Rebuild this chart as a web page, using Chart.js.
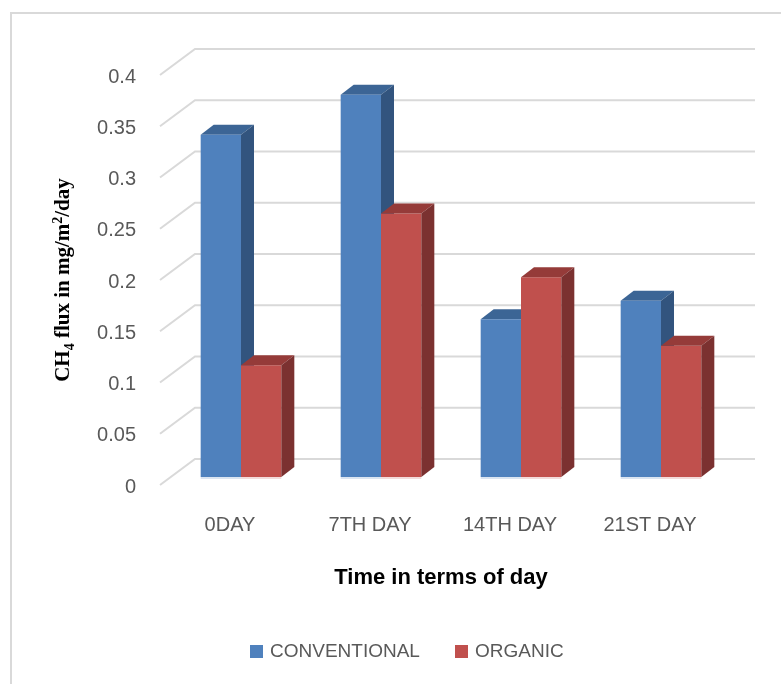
<!DOCTYPE html>
<html>
<head>
<meta charset="utf-8">
<title>CH4 flux</title>
<script src="https://cdn.jsdelivr.net/npm/chart.js@4.4.1/dist/chart.umd.min.js"></script>
<style>
  html, body { margin: 0; padding: 0; background: #ffffff; }
  canvas { display: block; }
</style>
</head>
<body>
<canvas id="chart" width="781" height="684"></canvas>
<script>
// Categories and series values (CH4 flux, mg/m2/day)
const categories = ['0DAY', '7TH DAY', '14TH DAY', '21ST DAY'];
const conventional = [0.334, 0.373, 0.154, 0.172];
const organic = [0.109, 0.257, 0.195, 0.128];
const seriesNames = ['CONVENTIONAL', 'ORGANIC'];
const yMin = 0, yMax = 0.4, yStep = 0.05;

// Colours of the front, top and side faces of each series
const faceColors = [
  { front: '#4f81bd', top: '#3c6595', side: '#32547e', base: '#dbe5f1' },
  { front: '#c0504d', top: '#953b39', side: '#7b3130', base: '#f2dcdb' }
];

// Oblique depth: offset from the bar plane to the front edge and to the back wall
const FRONT = { dx: -11, dy: 8 };
const BACK = { dx: 24, dy: -18 };
const BAR_DEPTH = { dx: 13, dy: -10 };
const GRID = '#d9d9d9';
const TEXT = '#595959';
const SANS = '"Liberation Sans", Arial, sans-serif';
const SERIF = '"Liberation Serif", "Times New Roman", serif';

function fmt(v) { return String(Number(v.toFixed(2))); }

function drawFaces(ctx, meta, colors) {
  meta.data.forEach(el => {
    const p = el.getProps(['x', 'y', 'base', 'width'], true);
    const l = p.x - p.width / 2, r = p.x + p.width / 2;
    const t = p.y, b = p.base;
    const dx = BAR_DEPTH.dx, dy = BAR_DEPTH.dy;
    // top face
    ctx.fillStyle = colors.top;
    ctx.beginPath();
    ctx.moveTo(l, t); ctx.lineTo(l + dx, t + dy); ctx.lineTo(r + dx, t + dy); ctx.lineTo(r, t);
    ctx.closePath(); ctx.fill();
    // side face
    ctx.fillStyle = colors.side;
    ctx.beginPath();
    ctx.moveTo(r, t); ctx.lineTo(r + dx, t + dy); ctx.lineTo(r + dx, b + dy); ctx.lineTo(r, b);
    ctx.closePath(); ctx.fill();
  });
}

const wallPlugin = {
  id: 'wall3d',
  beforeDraw(chart) {
    const ctx = chart.ctx;
    ctx.save();
    ctx.fillStyle = '#ffffff';
    ctx.fillRect(0, 0, chart.width, chart.height);
    // outer frame
    ctx.strokeStyle = '#d9d9d9';
    ctx.lineWidth = 2;
    ctx.beginPath();
    ctx.moveTo(11, chart.height + 5);
    ctx.lineTo(11, 13);
    ctx.lineTo(chart.width + 5, 13);
    ctx.stroke();
    ctx.restore();
  },
  beforeDatasetsDraw(chart) {
    const ctx = chart.ctx;
    const area = chart.chartArea;
    const ys = chart.scales.y;
    ctx.save();
    ctx.strokeStyle = GRID;
    ctx.lineWidth = 2;
    ys.ticks.forEach(tk => {
      const y = ys.getPixelForValue(tk.value);
      ctx.beginPath();
      ctx.moveTo(area.left + FRONT.dx, y + FRONT.dy);
      ctx.lineTo(area.left + BACK.dx, y + BACK.dy);
      ctx.lineTo(area.right + BACK.dx, y + BACK.dy);
      ctx.stroke();
    });
    // faces of the first series sit behind the second series' fronts
    drawFaces(ctx, chart.getDatasetMeta(0), faceColors[0]);
    ctx.restore();
  },
  afterDatasetsDraw(chart) {
    const ctx = chart.ctx;
    ctx.save();
    drawFaces(ctx, chart.getDatasetMeta(1), faceColors[1]);
    // light bottom edge of each bar
    [0, 1].forEach(i => {
      chart.getDatasetMeta(i).data.forEach(el => {
        const p = el.getProps(['x', 'base', 'width'], true);
        ctx.fillStyle = faceColors[i].base;
        ctx.fillRect(p.x - p.width / 2, p.base, p.width, 2);
      });
    });
    ctx.restore();
  },
  afterDraw(chart) {
    const ctx = chart.ctx;
    const ys = chart.scales.y;
    const xs = chart.scales.x;
    ctx.save();
    // value axis labels
    ctx.fillStyle = TEXT;
    ctx.font = '20px ' + SANS;
    ctx.textAlign = 'right';
    ctx.textBaseline = 'middle';
    ys.ticks.forEach(tk => {
      const y = ys.getPixelForValue(tk.value);
      ctx.fillText(fmt(tk.value), 136, y + FRONT.dy + 2);
    });
    // category labels along the front edge
    ctx.textAlign = 'center';
    const y0 = ys.getPixelForValue(0);
    categories.forEach((c, i) => {
      ctx.fillText(c, xs.getPixelForValue(i) + FRONT.dx, y0 + 48);
    });
    // category axis title
    ctx.fillStyle = '#000000';
    ctx.font = 'bold 22px ' + SANS;
    ctx.fillText('Time in terms of day', 441, 578);

    // value axis title with subscript and superscript
    const parts = [
      { t: 'CH', size: 21, shift: 0 },
      { t: '4', size: 14, shift: 5 },
      { t: ' flux in mg/m', size: 21, shift: 0 },
      { t: '2', size: 14, shift: -7 },
      { t: '/day', size: 21, shift: 0 }
    ];
    let total = 0;
    parts.forEach(pt => {
      ctx.font = 'bold ' + pt.size + 'px ' + SERIF;
      pt.w = ctx.measureText(pt.t).width;
      total += pt.w;
    });
    ctx.translate(62, 280);
    ctx.rotate(-Math.PI / 2);
    ctx.textAlign = 'left';
    ctx.textBaseline = 'alphabetic';
    let cx = -total / 2;
    parts.forEach(pt => {
      ctx.font = 'bold ' + pt.size + 'px ' + SERIF;
      ctx.fillText(pt.t, cx, 7 + pt.shift);
      cx += pt.w;
    });
    ctx.setTransform(1, 0, 0, 1, 0, 0);

    // legend
    ctx.font = '19px ' + SANS;
    ctx.textAlign = 'left';
    ctx.textBaseline = 'middle';
    const legendX = [250, 455];
    seriesNames.forEach((n, i) => {
      ctx.fillStyle = faceColors[i].front;
      ctx.fillRect(legendX[i], 645, 13, 13);
      ctx.fillStyle = TEXT;
      ctx.fillText(n, legendX[i] + 20, 652);
    });
    ctx.restore();
  }
};

new Chart(document.getElementById('chart'), {
  type: 'bar',
  data: {
    labels: categories,
    datasets: [
      { label: seriesNames[0], data: conventional, backgroundColor: faceColors[0].front },
      { label: seriesNames[1], data: organic, backgroundColor: faceColors[1].front }
    ]
  },
  options: {
    responsive: false,
    animation: false,
    devicePixelRatio: 1,
    layout: { padding: { left: 171, top: 67, right: 50, bottom: 207 } },
    datasets: { bar: { categoryPercentage: 0.576, barPercentage: 1.0, borderWidth: 0 } },
    scales: {
      x: { display: false },
      y: { display: false, min: yMin, max: yMax, ticks: { stepSize: yStep } }
    },
    plugins: { legend: { display: false }, tooltip: { enabled: false } }
  },
  plugins: [wallPlugin]
});
</script>
</body>
</html>
